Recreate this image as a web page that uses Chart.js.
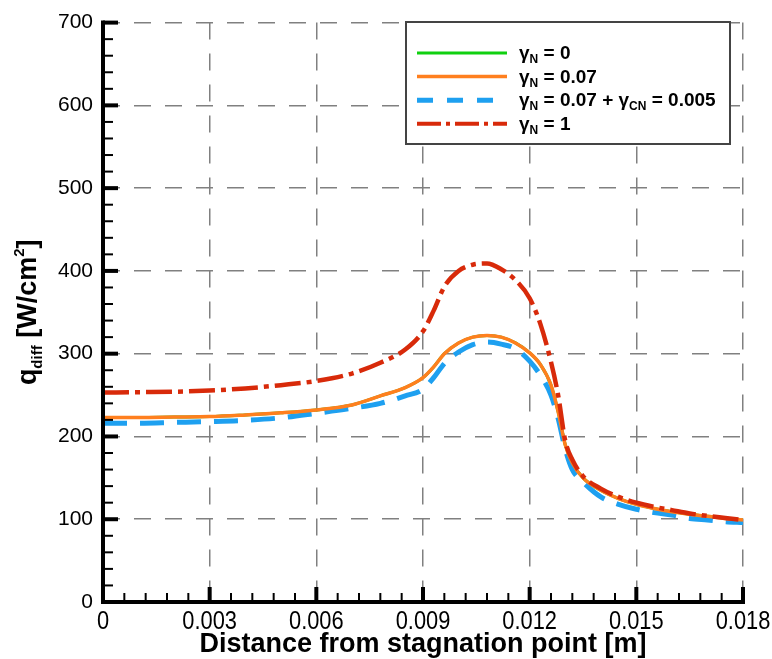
<!DOCTYPE html>
<html>
<head>
<meta charset="utf-8">
<script src="https://cdn.jsdelivr.net/npm/chart.js@4.4.0/dist/chart.umd.min.js"></script>
<style>
  html, body { margin: 0; padding: 0; background: #fff; }
  #wrap { width: 772px; height: 659px; }
</style>
</head>
<body>
<div id="wrap"><canvas id="heatChart" width="772" height="659"></canvas></div>
<script>
// Distance from stagnation point [m]
const distance = [0, 0.001, 0.002, 0.003, 0.004, 0.005, 0.006, 0.007, 0.0078, 0.0085, 0.009, 0.0093,
  0.0096, 0.0100, 0.0104, 0.0108, 0.0112, 0.0116, 0.0120, 0.0123, 0.0126, 0.0128, 0.0130, 0.0132,
  0.0135, 0.0140, 0.0145, 0.0150, 0.0155, 0.0160, 0.0165, 0.0170, 0.0175, 0.0180];

// q_diff [W/cm2] for each case
const qGammaN0 = [223, 223, 223.5, 224, 226, 228.5, 232, 238, 249, 259, 271, 284,
  300, 313, 320, 322, 320, 313, 301, 287, 262, 230, 190, 168,
  150, 135, 125, 118, 113, 109, 106, 103.5, 101, 99];
const qGammaN007 = [223, 223, 223.5, 224, 226, 228.5, 232, 238, 249, 259, 271, 284,
  300, 313, 320, 322, 320, 313, 301, 287, 262, 230, 190, 168,
  150, 135, 125, 118, 113, 109, 106, 103.5, 101, 99];
const qGammaCN = [216, 216, 217, 218, 219.5, 222.5, 228, 234, 240, 249, 257, 271,
  288, 302, 311, 314, 311.5, 306, 291, 274, 250, 222, 185, 160,
  145, 127, 118, 112, 108, 105, 101, 99, 97, 96];
const qGammaN1 = [253, 253.5, 254, 255.5, 258, 262, 267, 276, 289, 305, 327, 352,
  381, 400, 407.5, 409, 402, 389, 367, 336, 290, 250, 195, 172,
  152, 137, 127, 120, 115, 111, 107, 104, 101.5, 99];

// Axis ticks
const xTickValues = [0, 0.003, 0.006, 0.009, 0.012, 0.015, 0.018];
const xTickLabels = ['0', '0.003', '0.006', '0.009', '0.012', '0.015', '0.018'];
const yTickValues = [0, 100, 200, 300, 400, 500, 600, 700];

const toPoints = (vals) => vals.map((v, i) => ({ x: distance[i], y: v }));

// legend entries: text pieces, 's' = subscript
const legendRows = [
  { color: '#10d010', dash: [], width: 3, parts: [['γ'], ['N', 's'], [' = 0']] },
  { color: '#ff7f1e', dash: [], width: 3.5, parts: [['γ'], ['N', 's'], [' = 0.07']] },
  { color: '#1ea0f0', dash: [16, 14], width: 5, parts: [['γ'], ['N', 's'], [' = 0.07 + '], ['γ'], ['CN', 's'], [' = 0.005']] },
  { color: '#d82a0a', dash: [24, 5, 4, 5], width: 4, parts: [['γ'], ['N', 's'], [' = 1']] }
];

function line(ctx, x1, y1, x2, y2) {
  ctx.beginPath();
  ctx.moveTo(x1, y1);
  ctx.lineTo(x2, y2);
  ctx.stroke();
}

const decorPlugin = {
  id: 'decor',
  afterDatasetsDraw(chart) {
    const { ctx, chartArea: a, scales: { x, y } } = chart;
    ctx.save();
    ctx.strokeStyle = '#000';
    ctx.setLineDash([]);

    // minor ticks
    ctx.lineWidth = 2;
    for (let i = 0; i <= 30; i++) {
      const px = x.getPixelForValue(i * 0.0006);
      line(ctx, px, a.bottom, px, a.bottom - 9);
    }
    for (let i = 0; i <= 35; i++) {
      const py = y.getPixelForValue(i * 20);
      line(ctx, a.left, py, a.left + 10, py);
    }
    // major ticks
    ctx.lineWidth = 4;
    xTickValues.forEach(v => {
      const px = x.getPixelForValue(v);
      line(ctx, px, a.bottom, px, a.bottom - 15);
    });
    yTickValues.forEach(v => {
      const py = y.getPixelForValue(v);
      line(ctx, a.left, py, a.left + 15, py);
    });
    // axis lines
    line(ctx, a.left, a.top - 2, a.left, a.bottom + 2);
    line(ctx, a.left - 2, a.bottom, a.right + 2, a.bottom);

    // x tick labels (condensed)
    ctx.fillStyle = '#000';
    ctx.font = '26px "Liberation Sans", Arial, sans-serif';
    ctx.textAlign = 'center';
    ctx.textBaseline = 'alphabetic';
    xTickValues.forEach((v, i) => {
      ctx.save();
      ctx.translate(x.getPixelForValue(v), 629);
      ctx.scale(0.84, 1);
      ctx.fillText(xTickLabels[i], 0, 0);
      ctx.restore();
    });

    // x title
    ctx.font = 'bold 27px "Liberation Sans", Arial, sans-serif';
    ctx.fillText('Distance from stagnation point [m]', (a.left + a.right) / 2, 652);

    // y title (rotated) q_diff [W/cm^2]
    ctx.save();
    ctx.translate(36, (a.top + a.bottom) / 2);
    ctx.rotate(-Math.PI / 2);
    const big = 'bold 27px "Liberation Sans", Arial, sans-serif';
    const small = 'bold 15px "Liberation Sans", Arial, sans-serif';
    const pieces = [['q', big, 0], ['diff', small, 6], [' [W/cm', big, 0], ['2', small, -12], [']', big, 0]];
    let total = 0;
    pieces.forEach(p => { ctx.font = p[1]; total += ctx.measureText(p[0]).width; });
    let cx = -total / 2;
    ctx.textAlign = 'left';
    pieces.forEach(p => {
      ctx.font = p[1];
      ctx.fillText(p[0], cx, p[2]);
      cx += ctx.measureText(p[0]).width;
    });
    ctx.restore();

    // legend box
    const lx = 406, ly = 22, lw = 324, lh = 122;
    ctx.fillStyle = '#fff';
    ctx.fillRect(lx, ly, lw, lh);
    ctx.strokeStyle = '#444';
    ctx.lineWidth = 2;
    ctx.strokeRect(lx, ly, lw, lh);
    legendRows.forEach((row, i) => {
      const ry = 53 + i * 23.6;
      ctx.strokeStyle = row.color;
      ctx.lineWidth = row.width;
      ctx.setLineDash(row.dash);
      line(ctx, 417, ry, 507, ry);
      ctx.setLineDash([]);
      ctx.fillStyle = '#000';
      ctx.textAlign = 'left';
      let tx = 519;
      row.parts.forEach(p => {
        const sub = p[1] === 's';
        ctx.font = sub ? 'bold 12px "Liberation Sans", Arial, sans-serif'
                       : 'bold 19px "Liberation Sans", Arial, sans-serif';
        ctx.fillText(p[0], tx, ry + (sub ? 10 : 6));
        tx += ctx.measureText(p[0]).width;
      });
    });
    ctx.restore();
  }
};

const chart = new Chart(document.getElementById('heatChart'), {
  type: 'line',
  data: {
    datasets: [
      { label: 'γN = 0', data: toPoints(qGammaN0), borderColor: '#10d010', borderWidth: 3, order: 3 },
      { label: 'γN = 0.07', data: toPoints(qGammaN007), borderColor: '#ff7f1e', borderWidth: 3.5, order: 1 },
      { label: 'γN = 0.07 + γCN = 0.005', data: toPoints(qGammaCN), borderColor: '#1ea0f0',
        borderWidth: 5, borderDash: [24, 13], order: 2 },
      { label: 'γN = 1', data: toPoints(qGammaN1), borderColor: '#d82a0a',
        borderWidth: 4.5, borderDash: [26, 6, 5, 6], order: 0 }
    ]
  },
  options: {
    responsive: false,
    animation: false,
    layout: { padding: { left: 0, right: 29, top: 20, bottom: 0 } },
    elements: {
      point: { radius: 0 },
      line: { cubicInterpolationMode: 'monotone', fill: false }
    },
    plugins: { legend: { display: false }, tooltip: { enabled: false } },
    scales: {
      x: {
        type: 'linear',
        min: 0,
        max: 0.018,
        afterBuildTicks: (s) => { s.ticks = xTickValues.map(v => ({ value: v })); },
        afterFit: (s) => { s.height = 57; },
        ticks: { display: false },
        grid: { color: '#808080', lineWidth: 1.5, drawTicks: false },
        border: { display: false, dash: [17, 14] }
      },
      y: {
        min: 0,
        max: 700,
        afterBuildTicks: (s) => { s.ticks = yTickValues.map(v => ({ value: v })); },
        afterFit: (s) => { s.width = 103; },
        ticks: {
          padding: 10,
          color: '#000',
          font: { family: '"Liberation Sans", Arial, sans-serif', size: 21 }
        },
        grid: { color: '#808080', lineWidth: 1.5, drawTicks: false },
        border: { display: false, dash: [17, 14] }
      }
    }
  },
  plugins: [decorPlugin]
});
</script>
</body>
</html>
